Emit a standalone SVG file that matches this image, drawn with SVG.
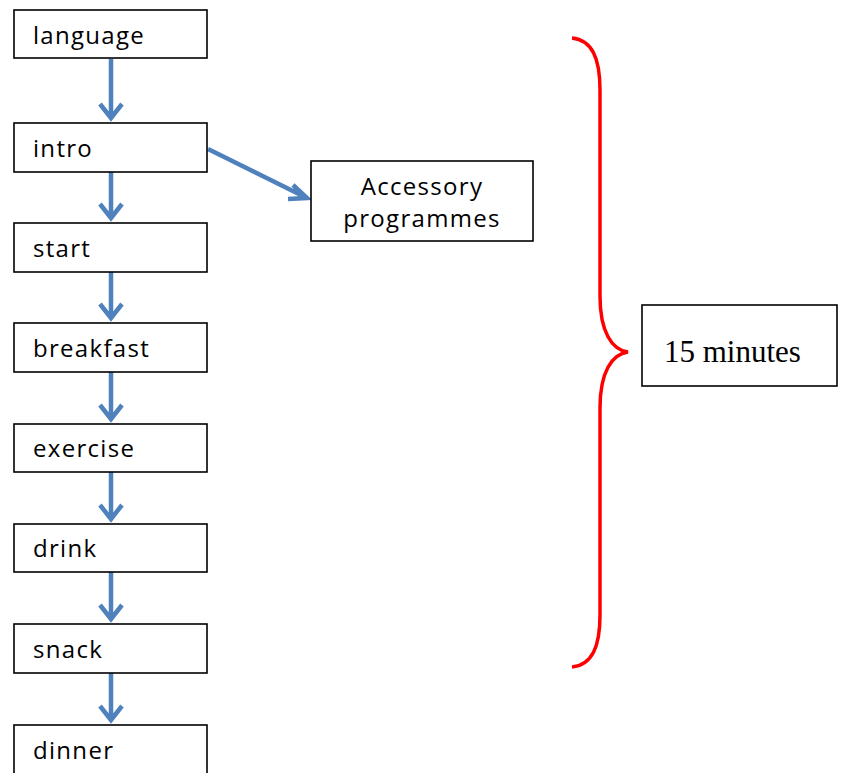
<svg xmlns="http://www.w3.org/2000/svg" width="846" height="773" viewBox="0 0 846 773">
  <style>
    .box { fill: #ffffff; stroke: #000000; stroke-width: 1.6; }
    .lbl { font-family: "Open Sans", "Liberation Sans", sans-serif; font-size: 24px; letter-spacing: 1.3px; fill: #000000; }
    .flow { fill: none; stroke: #4f81bd; stroke-width: 4.5; stroke-linecap: butt; stroke-linejoin: miter; }
    .brace { fill: none; stroke: #ff0000; stroke-width: 3.5; }
    .note { font-family: "Liberation Serif", "Times New Roman", serif; font-size: 31px; fill: #000000; }
  </style>
  <rect width="846" height="773" fill="#ffffff"/>

  <g id="connectors">
    <path class="flow" d="M111,59 V118 M100,104 L111,118 L122,104"/>
    <path class="flow" d="M111,172 V218 M100,204 L111,218 L122,204"/>
    <path class="flow" d="M111,272 V318 M100,304 L111,318 L122,304"/>
    <path class="flow" d="M111,372 V419 M100,405 L111,419 L122,405"/>
    <path class="flow" d="M111,472 V519 M100,505 L111,519 L122,505"/>
    <path class="flow" d="M111,572 V619 M100,605 L111,619 L122,605"/>
    <path class="flow" d="M111,673 V720 M100,706 L111,720 L122,706"/>
    <path class="flow" d="M208,149 L307,198 M293,185 L307,198 L288,199"/>
  </g>

  <g id="language"><rect class="box" x="14" y="10" width="193" height="48"/><text class="lbl" x="33" y="44">language</text></g>
  <g id="intro"><rect class="box" x="14" y="123" width="193" height="49"/><text class="lbl" x="33" y="157">intro</text></g>
  <g id="start"><rect class="box" x="14" y="223" width="193" height="49"/><text class="lbl" x="33" y="257">start</text></g>
  <g id="breakfast"><rect class="box" x="14" y="323" width="193" height="49"/><text class="lbl" x="33" y="357">breakfast</text></g>
  <g id="exercise"><rect class="box" x="14" y="424" width="193" height="48"/><text class="lbl" x="33" y="457">exercise</text></g>
  <g id="drink"><rect class="box" x="14" y="524" width="193" height="48"/><text class="lbl" x="33" y="557">drink</text></g>
  <g id="snack"><rect class="box" x="14" y="624" width="193" height="49"/><text class="lbl" x="33" y="658">snack</text></g>
  <g id="dinner"><rect class="box" x="14" y="725" width="193" height="60"/><text class="lbl" x="33" y="759">dinner</text></g>

  <g id="accessory">
    <rect class="box" x="311" y="161" width="222" height="80"/>
    <text class="lbl" x="422" y="195" text-anchor="middle">Accessory</text>
    <text class="lbl" x="422" y="227" text-anchor="middle">programmes</text>
  </g>

  <g id="span-brace">
    <path class="brace" d="M572,38 C592,40 600,58 600,90 V296 C600,332 612,350 628,352 C612,354 600,372 600,408 V615 C600,647 592,665 572,667"/>
  </g>

  <g id="duration">
    <rect class="box" x="642" y="305" width="195" height="81"/>
    <text class="note" x="664" y="362">15 minutes</text>
  </g>
</svg>
